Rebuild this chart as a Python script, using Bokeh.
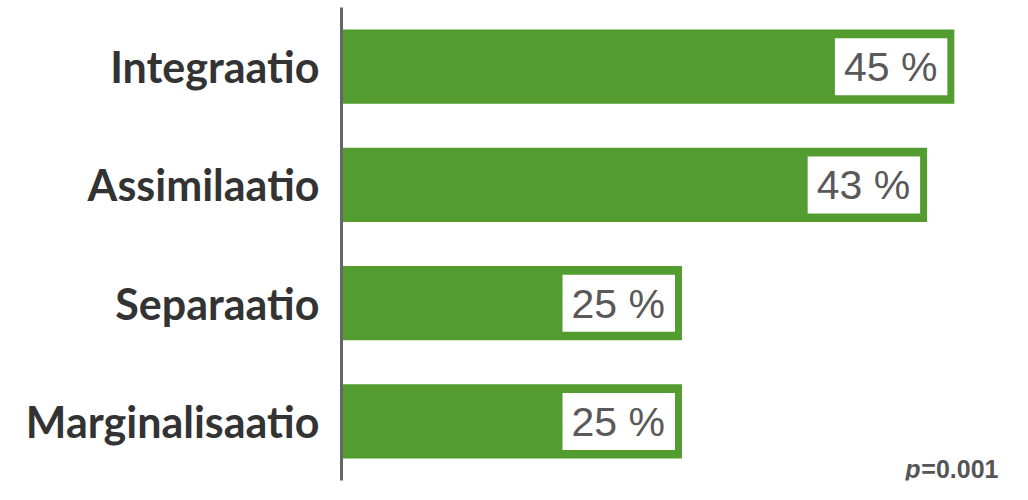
from bokeh.plotting import figure
from bokeh.models import Range1d, FactorRange, Label
from bokeh.embed import file_html
from bokeh.resources import INLINE
from bokeh.core.properties import value

categories = ["Integraatio", "Assimilaatio", "Separaatio", "Marginalisaatio"]
values = [45, 43, 25, 25]
labels = ["45 %", "43 %", "25 %", "25 %"]
p_text = "=0.001"

GREEN = "#529c30"
X_END = 49.27

p = figure(width=1012, height=484, output_backend="svg", toolbar_location=None,
           y_range=FactorRange(factors=categories[::-1], range_padding=0),
           x_range=Range1d(0, X_END),
           min_border_left=341, min_border_right=0, min_border_top=7, min_border_bottom=4)

p.hbar(y=categories, right=values, left=0, height=0.627, fill_color=GREEN, line_color=None)

p.text(x=values, y=categories, text=labels, x_offset=-7,
       text_align="right", text_baseline="middle",
       text_font=value("Liberation Sans"), text_font_size="41px", text_color="#595959",
       background_fill_color="white", padding=dict(left=9, right=10, top=6, bottom=5))

p.xaxis.visible = False
p.xgrid.visible = False
p.ygrid.visible = False
p.outline_line_color = None

ya = p.yaxis[0]
ya.axis_line_color = "#666666"
ya.axis_line_width = 3
ya.major_tick_line_color = None
ya.minor_tick_line_color = None
ya.major_label_text_font = "Lato"
ya.major_label_text_font_style = "bold"
ya.major_label_text_font_size = "43px"
ya.major_label_text_color = "#333333"
ya.major_label_standoff = 16

lab2 = Label(x=X_END, y=0, x_offset=-14, y_offset=-2, text=p_text,
             text_align="right", text_baseline="bottom",
             text_font="Liberation Sans", text_font_style="bold",
             text_font_size="25px", text_color="#555555")
lab1 = Label(x=X_END, y=0, x_offset=-14 - 78, y_offset=-2, text="p",
             text_align="right", text_baseline="bottom",
             text_font="Liberation Sans", text_font_style="bold italic",
             text_font_size="25px", text_color="#555555")
p.add_layout(lab2)
p.add_layout(lab1)

open("out.html", "w").write(file_html(p, INLINE))
